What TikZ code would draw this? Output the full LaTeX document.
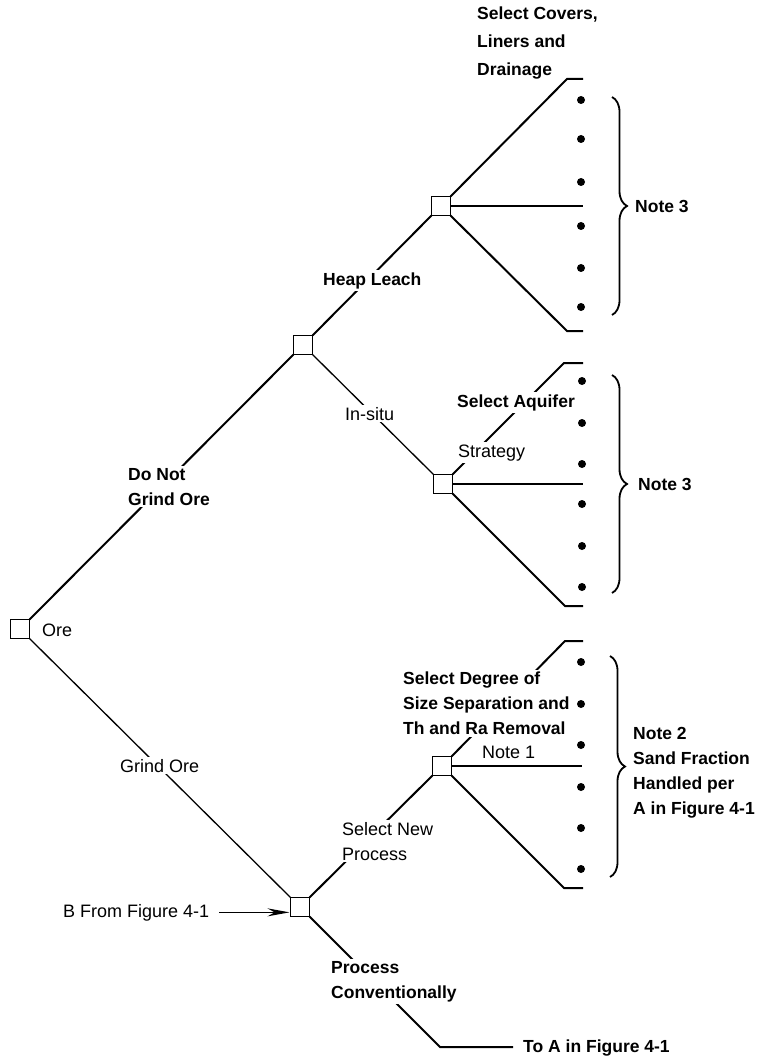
\documentclass[tikz,border=0pt]{standalone}
\usepackage{fontspec}
\setmainfont{Liberation Sans}
\usetikzlibrary{decorations.pathreplacing,arrows.meta}
\begin{document}
\begin{tikzpicture}[x=1pt,y=-1pt,
  box/.style={draw,line width=1.8pt,minimum size=19pt,inner sep=0pt,outer sep=0pt},
  thk/.style={line width=2pt},
  thn/.style={line width=1.3pt},
  lb/.style={font=\fontsize{17.5}{25}\selectfont\bfseries,align=left,inner sep=2pt},
  lr/.style={font=\fontsize{18}{25}\selectfont,align=left,inner sep=2pt},
  gap/.style={fill=white},
  dot/.style={circle,fill,inner sep=0pt,minimum size=8pt},
  brc/.style={decorate,decoration={brace,amplitude=15pt},line width=1.8pt},
]
\useasboundingbox (0,0) rectangle (760,1056);

% decision boxes
\node[box] (ore) at (20,629) {};
\node[box] (hl) at (303,345) {};
\node[box] (heap) at (441,206) {};
\node[box] (ins) at (443,484) {};
\node[box] (grind) at (300,907) {};
\node[box] (sand) at (442,766) {};

% fan end points
\coordinate (h1) at (567,79);  \coordinate (h1e) at (583,79);
\coordinate (h2e) at (583,206);
\coordinate (h3) at (567,331); \coordinate (h3e) at (583,331);
\coordinate (i1) at (564,363); \coordinate (i1e) at (583,363);
\coordinate (i2e) at (583,484);
\coordinate (i3) at (565,606); \coordinate (i3e) at (583,606);
\coordinate (s1) at (565,641); \coordinate (s1e) at (583,641);
\coordinate (s2e) at (582,766);
\coordinate (s3) at (564,888); \coordinate (s3e) at (583,888);
\coordinate (pc) at (440,1047);

% labels without gaps
\node[lb,anchor=base west] (toA) at (521,1052) {To A in Figure 4-1};
\node[lr,anchor=base west] (bf) at (61,917) {B From Figure 4-1};

% connectors
\draw[thk] (ore.north east) -- (hl.south west);
\draw[thk] (hl.north east) -- (heap.south west);
\draw[thn] (hl.south east) -- (ins.north west);
\draw[thn] (ore.south east) -- (grind.north west);
\draw[thk] (grind.north east) -- (sand.south west);
\draw[thk] (grind.south east) -- (pc) -- ([xshift=-8pt]pc -| toA.west);
\draw[thn,-{Stealth[length=22pt,width=8pt]}] ([xshift=8pt]bf.east) -- ([xshift=-1pt]bf.east -| grind.west);

\draw[thk] (heap.north east) -- (h1) -- (h1e);
\draw[thn] (heap.east) -- (h2e);
\draw[thk] (heap.south east) -- (h3) -- (h3e);
\draw[thk] (ins.north east) -- (i1) -- (i1e);
\draw[thn] (ins.east) -- (i2e);
\draw[thk] (ins.south east) -- (i3) -- (i3e);
\draw[thk] (sand.north east) -- (s1) -- (s1e);
\draw[thn] (sand.east) -- (s2e);
\draw[thk] (sand.south east) -- (s3) -- (s3e);

% dots
\foreach \y [count=\i] in {100,139,182,226,268,307} \node[dot] (hd\i) at (581,\y) {};
\foreach \y [count=\i] in {381,423,464,504,546,587} \node[dot] (id\i) at (582,\y) {};
\foreach \y [count=\i] in {662,704,745,787,828,869} \node[dot] (sd\i) at (581,\y) {};

% braces
\draw[brc] (612,97) -- (612,315);
\draw[brc] (612,375) -- (612,593);
\draw[brc] (610,656) -- (610,877);

% labels
\node[lb,anchor=north west,font=\fontsize{17.5}{28}\selectfont\bfseries] (cov) at (475,5) {Select Covers,\\Liners and\\Drainage};
\node[lb,gap,anchor=base west] (hleach) at (321,285) {Heap Leach};
\node[lb,gap,anchor=north west] (dng) at (126,466) {Do Not\\Grind Ore};
\node[lr,gap,anchor=base west] (insl) at (343,420) {In-situ};
\node[lb,gap,anchor=base west] (aq) at (455,407) {Select Aquifer};
\node[lr,gap,anchor=base west] (strat) at (456,457) {Strategy};
\node[lb,anchor=base west] (n3a) at (633,213) {Note 3};
\node[lb,anchor=base west] (n3b) at (636,490) {Note 3};
\node[lr,anchor=base west] (orel) at (40,636) {Ore};
\node[lr,gap,anchor=base west] (gol) at (118,772) {Grind Ore};
\node[lb,gap,anchor=north west] (deg) at (401,670) {Select Degree of\\Size Separation and\\Th and Ra Removal};
\node[lr,anchor=base west] (n1) at (480,758) {Note 1};
\node[lb,anchor=north west] (n2) at (631,725) {Note 2\\Sand Fraction\\Handled per\\A in Figure 4-1};
\node[lr,gap,anchor=north west] (snp) at (340,820) {Select New\\Process};
\node[lb,gap,anchor=north west] (pcl) at (329,959) {Process\\Conventionally};
\end{tikzpicture}
\end{document}
